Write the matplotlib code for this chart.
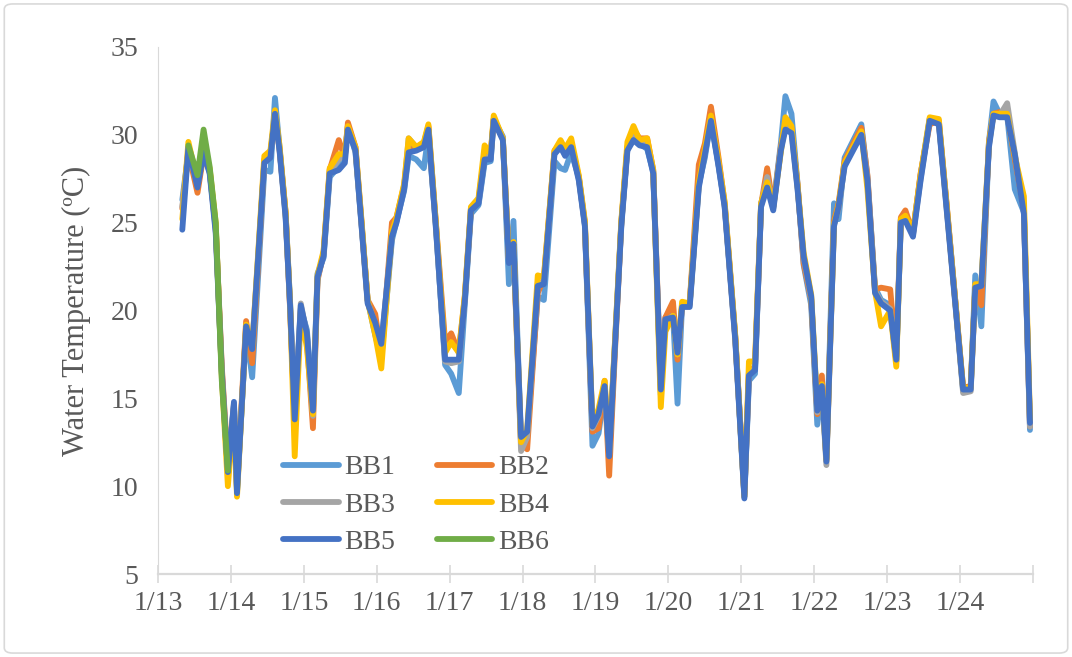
import matplotlib
matplotlib.use("Agg")
import matplotlib.pyplot as plt
from matplotlib.patches import FancyBboxPatch
import numpy as np

plt.rcParams['font.family'] = ['Liberation Serif', 'DejaVu Serif']

# sample times, hours after 1/13 00:00
hours = [8, 10, 13, 15, 17, 19, 21, 23, 25, 26,
         29, 31, 35, 37, 38.5, 40, 42, 43.5, 45, 47,
         49, 51, 52.5, 54.5, 56.5, 59.5, 61.5, 62.5, 65, 67,
         69, 71.5, 73.5, 77, 78.5, 81, 82.5, 85, 87.5, 89,
         91.5, 94.5, 96.5, 99, 101, 103, 105.5, 107.5, 109.5, 110.5,
         113.5, 115.5, 117, 119.5, 121.5, 125, 127, 130.5, 132.5, 134,
         136, 138.5, 140.5, 143, 145, 147, 148.5, 150.5, 152.5, 154.5,
         156.5, 158.5, 161, 163, 165.5, 167, 169.5, 171, 172.5, 175,
         178, 180, 182, 184.5, 186.5, 190, 193, 194.5, 196.5, 198.5,
         200.5, 202.5, 205, 206.5, 208.5, 210.5, 212.5, 215, 217, 218.5,
         220, 222.5, 224, 226, 231.5, 233.5, 236, 238, 241, 243,
         244.5, 246, 248.5, 251, 254, 257, 259.5, 262.5, 265, 267.5,
         269, 271, 273.5, 275, 277, 279.5, 282, 285, 287]

bb1 = [26.3, 29.0, 27.2, 28.8, 27.9, 24.8, 16.6, 11.0, 14.6, 9.8,
       18.9, 16.2, 28.0, 27.9, 32.1, 29.3, 25.5, 20.4, 13.9, 20.1,
       18.9, 14.5, 22.1, 23.0, 27.6, 28.2, 28.8, 30.5, 29.0, 24.9,
       20.6, 18.6, 17.3, 24.0, 25.1, 26.8, 28.8, 28.6, 28.1, 30.0,
       24.8, 16.9, 16.4, 15.3, 20.4, 25.5, 26.0, 28.4, 28.5, 30.9,
       29.9, 21.5, 25.1, 12.4, 12.9, 20.8, 20.6, 28.5, 28.1, 28.0,
       29.0, 27.6, 24.9, 12.3, 13.0, 15.5, 11.9, 18.5, 25.0, 29.2,
       29.8, 29.5, 29.2, 27.9, 15.2, 19.6, 19.8, 14.7, 20.3, 20.4,
       27.2, 28.7, 30.9, 28.3, 26.0, 18.5, 9.4, 16.0, 16.4, 26.1,
       27.2, 25.9, 29.5, 32.2, 31.2, 27.2, 22.6, 20.3, 13.5, 15.5,
       11.6, 26.1, 25.2, 28.7, 30.6, 27.6, 21.3, 20.6, 20.3, 17.1,
       25.2, 25.3, 24.4, 27.7, 30.9, 30.7, 26.1, 20.4, 15.4, 15.6,
       22.0, 19.1, 29.6, 31.9, 31.2, 31.1, 26.9, 25.6, 13.2]

bb2 = [25.8, 29.0, 26.7, 28.9, 28.0, 24.7, 16.8, 11.2, 14.5, 9.9,
       19.4, 17.0, 28.6, 29.0, 31.0, 29.2, 25.6, 20.0, 13.5, 20.0,
       18.3, 13.3, 21.7, 23.3, 28.0, 29.7, 28.7, 30.7, 29.3, 25.0,
       20.6, 19.8, 17.4, 25.0, 25.3, 27.1, 29.3, 29.2, 29.5, 30.5,
       24.9, 18.2, 18.7, 17.6, 20.8, 25.8, 26.3, 28.9, 28.9, 30.9,
       29.8, 22.9, 23.6, 12.4, 12.1, 21.0, 21.8, 29.1, 29.5, 29.0,
       29.5, 27.6, 25.0, 13.1, 13.3, 16.0, 10.6, 18.0, 25.0, 29.3,
       30.3, 29.8, 29.8, 28.0, 15.7, 19.6, 20.5, 17.2, 20.3, 20.4,
       28.3, 29.5, 31.6, 28.7, 26.1, 18.5, 9.5, 16.5, 16.8, 26.0,
       28.1, 25.9, 29.3, 30.6, 30.4, 27.2, 22.7, 20.6, 14.1, 16.3,
       11.5, 25.1, 26.1, 28.5, 30.4, 27.7, 21.2, 21.3, 21.2, 17.4,
       25.3, 25.7, 24.4, 27.8, 30.6, 30.8, 26.2, 20.4, 15.6, 15.7,
       21.3, 20.3, 29.6, 31.2, 31.3, 31.2, 28.6, 25.8, 13.4]

bb3 = [25.9, 29.1, 27.1, 29.1, 27.9, 24.6, 16.5, 10.9, 14.7, 9.7,
       19.0, 17.9, 28.5, 28.9, 31.1, 29.2, 25.4, 20.1, 13.6, 20.4,
       18.6, 14.0, 21.8, 23.2, 27.9, 28.6, 28.9, 30.4, 29.2, 24.9,
       20.5, 19.2, 18.0, 24.3, 25.1, 27.0, 29.8, 29.3, 29.5, 30.4,
       24.7, 17.1, 17.0, 17.1, 20.7, 25.8, 26.2, 28.7, 28.8, 30.9,
       29.8, 22.8, 23.9, 12.0, 12.8, 21.5, 21.6, 29.0, 29.5, 29.0,
       29.4, 27.5, 24.9, 13.3, 14.0, 15.6, 11.8, 18.4, 24.9, 29.3,
       30.0, 29.6, 29.5, 27.9, 15.4, 19.4, 19.7, 17.5, 20.3, 20.3,
       27.1, 29.0, 31.0, 28.3, 26.0, 18.4, 9.4, 16.4, 16.7, 26.0,
       27.6, 25.8, 29.2, 30.5, 30.2, 27.0, 23.0, 20.7, 14.2, 15.6,
       11.2, 24.9, 25.8, 28.3, 30.1, 27.5, 21.1, 20.5, 20.1, 17.1,
       25.1, 25.3, 24.3, 27.5, 30.9, 30.7, 26.0, 20.3, 15.3, 15.4,
       21.4, 21.5, 29.4, 31.2, 31.1, 31.8, 29.0, 25.6, 13.4]

bb4 = [25.2, 29.6, 27.3, 29.2, 28.1, 25.0, 16.2, 10.0, 14.3, 9.4,
       19.2, 17.9, 28.8, 29.1, 31.4, 29.4, 25.6, 20.3, 11.7, 19.9,
       17.9, 14.1, 22.0, 23.4, 28.1, 28.9, 28.9, 30.5, 29.3, 25.1,
       20.6, 18.6, 16.7, 24.5, 25.3, 27.2, 29.8, 29.3, 29.6, 30.6,
       24.9, 17.6, 18.2, 17.6, 20.9, 25.9, 26.4, 29.4, 28.9, 31.1,
       29.8, 22.9, 23.9, 12.5, 13.2, 22.0, 21.9, 29.1, 29.7, 29.2,
       29.8, 27.7, 25.1, 13.5, 14.4, 16.0, 12.0, 18.6, 25.1, 29.6,
       30.5, 29.7, 29.8, 28.0, 14.5, 18.8, 19.7, 17.5, 20.5, 20.4,
       27.3, 29.2, 31.1, 28.5, 26.2, 18.6, 9.4, 17.1, 17.1, 26.1,
       27.3, 25.9, 29.0, 31.0, 30.5, 27.1, 23.3, 20.9, 14.5, 15.8,
       11.5, 24.9, 26.0, 28.4, 30.2, 26.9, 21.1, 19.1, 20.0, 16.8,
       25.2, 25.4, 24.5, 27.7, 31.0, 30.9, 26.1, 20.3, 15.6, 15.6,
       21.5, 21.5, 29.5, 31.2, 31.2, 31.2, 28.8, 26.5, 13.8]

bb5 = [24.6, 29.3, 27.0, 29.0, 27.8, 24.4, 16.4, 10.8, 14.8, 9.6,
       19.1, 17.8, 28.4, 28.7, 31.2, 29.1, 25.3, 20.2, 13.8, 20.3,
       18.7, 14.3, 21.9, 23.1, 27.8, 28.0, 28.4, 30.3, 29.1, 24.8,
       20.4, 19.3, 18.1, 24.2, 25.0, 26.9, 29.0, 29.1, 29.3, 30.3,
       24.6, 17.2, 17.2, 17.2, 20.6, 25.7, 26.1, 28.6, 28.6, 30.8,
       29.7, 22.7, 23.8, 12.8, 13.1, 21.4, 21.5, 28.9, 29.3, 28.8,
       29.3, 27.4, 24.8, 13.4, 14.1, 15.7, 11.7, 18.3, 24.8, 29.1,
       29.7, 29.4, 29.3, 27.8, 15.5, 19.5, 19.6, 17.6, 20.2, 20.2,
       27.0, 28.9, 30.8, 28.2, 25.9, 18.3, 9.3, 16.3, 16.6, 25.9,
       27.0, 25.7, 29.1, 30.3, 30.1, 26.9, 23.1, 20.8, 14.3, 15.7,
       11.4, 24.8, 25.9, 28.2, 30.0, 27.4, 21.0, 20.4, 20.0, 17.2,
       25.0, 25.1, 24.2, 27.4, 30.8, 30.6, 25.9, 20.2, 15.5, 15.5,
       21.3, 21.4, 29.3, 31.1, 31.0, 31.0, 28.9, 25.5, 13.6]

bb6_hours = [10, 13, 15, 17, 19, 21, 23]
bb6 = [29.4, 27.7, 30.3, 28.2, 25.0, 16.0, 10.9]

names = ["BB1", "BB2", "BB3", "BB4", "BB5", "BB6"]
colors = ["#5B9BD5", "#ED7D31", "#A5A5A5", "#FFC000", "#4472C4", "#70AD47"]
day_ticks = list(range(13, 26))
day_labels = ["1/13", "1/14", "1/15", "1/16", "1/17", "1/18", "1/19",
              "1/20", "1/21", "1/22", "1/23", "1/24", ""]

text_col = "#595959"
axis_col = "#D9D9D9"

fig = plt.figure(figsize=(10.72, 6.57), dpi=100)
ax = fig.add_axes([158 / 1072, 1 - 574 / 657, (1033 - 158) / 1072, (574 - 47) / 657])

t = 13 + np.array(hours) / 24.0
t6 = 13 + np.array(bb6_hours) / 24.0
series = [(t, bb1), (t, bb2), (t, bb3), (t, bb4), (t, bb5), (t6, bb6)]
handles = []
for (x, y), name, c in zip(series, names, colors):
    ln, = ax.plot(x, y, color=c, lw=4.2, label=name,
                  solid_joinstyle="round", solid_capstyle="round")
    handles.append(ln)

ax.set_xlim(13, 25)
ax.set_ylim(5, 35)
ax.set_yticks(range(5, 36, 5))
ax.set_xticks(day_ticks)
ax.set_xticklabels(day_labels)

for side in ["top", "right"]:
    ax.spines[side].set_visible(False)
ax.spines["bottom"].set_color(axis_col)
ax.spines["bottom"].set_linewidth(1.6)
ax.spines["left"].set_color(axis_col)
ax.spines["left"].set_linewidth(0.8)

ax.tick_params(axis="x", direction="inout", length=13, width=1.2,
               color=axis_col, labelsize=20, labelcolor=text_col, pad=6)
ax.tick_params(axis="y", length=0, labelsize=20, labelcolor=text_col, pad=14)

ax.set_ylabel("Water Temperature (ºC)", fontsize=22, color=text_col, labelpad=14)

# legend filled row by row: BB1 BB2 / BB3 BB4 / BB5 BB6
order = [0, 2, 4, 1, 3, 5]
leg = ax.legend([handles[i] for i in order], [names[i] for i in order],
                ncol=2, loc="upper left", frameon=False,
                bbox_to_anchor=(283 / 1072, 1 - 455 / 657),
                bbox_transform=fig.transFigure,
                borderaxespad=0, borderpad=0, fontsize=20,
                handlelength=2.0, handletextpad=0.2,
                columnspacing=1.5, labelspacing=0.42)
for txt in leg.get_texts():
    txt.set_color(text_col)
for ln in leg.get_lines():
    ln.set_linewidth(4.2)

border = FancyBboxPatch((0.004, 0.006), 0.992, 0.988,
                        boxstyle="round,pad=0,rounding_size=0.008",
                        transform=fig.transFigure, facecolor="none",
                        edgecolor=axis_col, lw=1.2)
fig.patches.append(border)

fig.savefig("out.png", dpi=100, facecolor="white")
